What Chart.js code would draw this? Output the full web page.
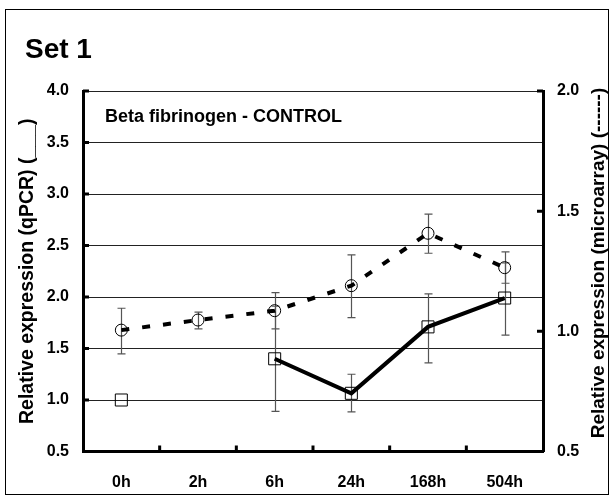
<!DOCTYPE html>
<html>
<head>
<meta charset="utf-8">
<title>Set 1 - Beta fibrinogen</title>
<script src="https://cdn.jsdelivr.net/npm/chart.js@4.4.1/dist/chart.umd.min.js"></script>
<style>
  html, body { margin: 0; padding: 0; background: #fff; }
  #wrap { width: 614px; height: 500px; }
</style>
</head>
<body>
<div id="wrap"><canvas id="exprChart" width="614" height="500"></canvas></div>
<script>
// time points
const categories = ['0h', '2h', '6h', '24h', '168h', '504h'];

// qPCR (left axis, solid line, squares)
const qpcr = [1.0, null, 1.40, 1.065, 1.71, 1.99];
const qpcrLow = [null, null, 0.89, 0.885, 1.36, 1.63];
const qpcrHigh = [null, null, 1.91, 1.25, 2.03, 2.33];

// microarray (right axis, dashed line, circles)
const micro = [1.005, 1.047, 1.086, 1.19, 1.408, 1.265];
const microLow = [0.906, 1.01, 1.01, 1.057, 1.325, 1.2];
const microHigh = [1.096, 1.08, 1.161, 1.318, 1.488, 1.331];

const leftTicks = [0.5, 1.0, 1.5, 2.0, 2.5, 3.0, 3.5, 4.0];
const rightTicks = [0.5, 1.0, 1.5, 2.0];

const FONT = "'Liberation Sans', Arial, sans-serif";
Chart.defaults.font.family = FONT;
Chart.defaults.color = '#000';

// error bars, inward tick marks, texts and frame
const decor = {
    id: 'decor',
    beforeDatasetsDraw(chart) {
        const c = chart.ctx;
        const x = chart.scales.x;
        const bars = [
            [chart.scales.y, qpcrLow, qpcrHigh],
            [chart.scales.y1, microLow, microHigh]
        ];
        c.save();
        c.strokeStyle = '#555';
        c.lineWidth = 1.2;
        bars.forEach(([sc, lo, hi]) => {
            lo.forEach((v, i) => {
                if (v == null || hi[i] == null) return;
                const px = Math.round(x.getPixelForValue(i)) + 0.5;
                const y0 = sc.getPixelForValue(v);
                const y1 = sc.getPixelForValue(hi[i]);
                c.beginPath();
                c.moveTo(px, y0); c.lineTo(px, y1);
                c.moveTo(px - 4, y0); c.lineTo(px + 4, y0);
                c.moveTo(px - 4, y1); c.lineTo(px + 4, y1);
                c.stroke();
            });
        });
        c.restore();
    },
    afterDraw(chart) {
        const c = chart.ctx;
        const a = chart.chartArea;
        c.save();
        c.strokeStyle = '#000';
        c.lineWidth = 3;
        c.beginPath();
        leftTicks.forEach(v => {
            const py = chart.scales.y.getPixelForValue(v);
            c.moveTo(a.left, py); c.lineTo(a.left + 6, py);
        });
        rightTicks.forEach(v => {
            const py = chart.scales.y1.getPixelForValue(v);
            c.moveTo(a.right - 6, py); c.lineTo(a.right, py);
        });
        const w = (a.right - a.left) / categories.length;
        for (let i = 1; i < categories.length; i++) {
            const px = a.left + i * w;
            c.moveTo(px, a.bottom); c.lineTo(px, a.bottom - 6);
        }
        c.stroke();

        c.fillStyle = '#000';
        c.textBaseline = 'alphabetic';
        c.textAlign = 'left';
        c.font = 'bold 28px ' + FONT;
        c.fillText('Set 1', 25, 58);
        c.font = 'bold 18px ' + FONT;
        c.fillText('Beta fibrinogen - CONTROL', 105, 122);

        // right axis title reads bottom to top
        c.translate(599, 263);
        c.rotate(-Math.PI / 2);
        c.textAlign = 'center';
        c.textBaseline = 'middle';
        c.font = 'bold 19px ' + FONT;
        c.fillText('Relative expression (microarray) (------)', 0, 0);
        c.restore();

        c.save();
        c.strokeStyle = '#000';
        c.lineWidth = 1;
        c.strokeRect(5.5, 9.5, 603, 485);
        c.restore();
    }
};

const tickFont = { size: 16, weight: 'bold' };

new Chart(document.getElementById('exprChart').getContext('2d'), {
    type: 'line',
    data: {
        labels: categories,
        datasets: [{
            label: 'qPCR',
            data: qpcr,
            yAxisID: 'y',
            borderColor: '#000',
            borderWidth: 4,
            tension: 0,
            spanGaps: false,
            pointStyle: 'rect',
            pointRadius: 8.5,
            pointBorderWidth: 1,
            pointBorderColor: '#000',
            pointBackgroundColor: 'rgba(0,0,0,0)'
        }, {
            label: 'microarray',
            data: micro,
            yAxisID: 'y1',
            borderColor: '#000',
            borderWidth: 4,
            borderDash: [8, 13],
            tension: 0,
            pointStyle: 'circle',
            pointRadius: 6,
            pointBorderWidth: 1,
            pointBorderColor: '#000',
            pointBackgroundColor: 'rgba(0,0,0,0)'
        }]
    },
    options: {
        responsive: false,
        animation: false,
        layout: { padding: { top: 91, left: 0, right: 0, bottom: 0 } },
        plugins: {
            legend: { display: false },
            tooltip: { enabled: false }
        },
        scales: {
            x: {
                offset: true,
                grid: { display: false, drawTicks: false },
                border: { display: true, color: '#000', width: 3 },
                ticks: { font: tickFont, color: '#000', padding: 21, maxRotation: 0 },
                afterFit: s => { s.height = 48.5; }
            },
            y: {
                position: 'left',
                min: 0.5,
                max: 4.0,
                afterBuildTicks: s => { s.ticks = leftTicks.map(v => ({ value: v })); },
                ticks: { font: tickFont, color: '#000', padding: 14, callback: v => Number(v).toFixed(1) },
                grid: { color: '#222', lineWidth: 1, drawTicks: false },
                border: { display: true, color: '#000', width: 3 },
                title: {
                    display: true,
                    text: 'Relative expression (qPCR) (___)',
                    font: { size: 19.5, weight: 'bold' },
                    color: '#000',
                    padding: { top: 16, bottom: 0 }
                },
                afterFit: s => { s.width = 83; }
            },
            y1: {
                position: 'right',
                min: 0.5,
                max: 2.0,
                afterBuildTicks: s => { s.ticks = rightTicks.map(v => ({ value: v })); },
                ticks: { font: tickFont, color: '#000', padding: 14, callback: v => Number(v).toFixed(1) },
                grid: { display: false, drawTicks: false },
                border: { display: true, color: '#000', width: 3 },
                afterFit: s => { s.width = 71; }
            }
        }
    },
    plugins: [decor]
});
</script>
</body>
</html>
